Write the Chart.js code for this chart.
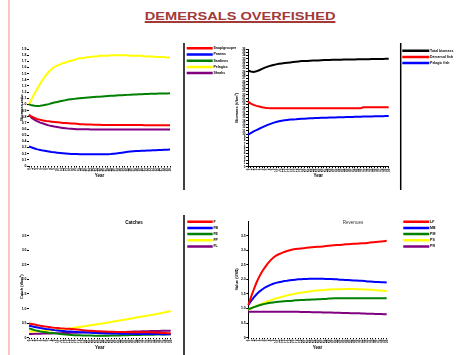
<!DOCTYPE html>
<html>
<head>
<meta charset="utf-8">
<script src="https://cdn.jsdelivr.net/npm/chart.js@4.4.1/dist/chart.umd.min.js"></script>
<style>
  body { margin: 0; background: #fff; }
  #page { position: relative; width: 465px; height: 355px; overflow: hidden; background: #fff; font-family: "Liberation Sans", Arial, sans-serif; }
  #edge { position: absolute; left: 8px; top: 0; width: 2px; height: 355px; background: #fbc6bd; }
  #title { position: absolute; left: 0; top: 10px; width: 480px; text-align: center; font-weight: bold; font-size: 11.5px; line-height: 13px; color: #a23a3a; }
  #title span { display: inline-block; transform: scaleX(1.27); text-decoration: underline; text-decoration-thickness: 1.5px; }
  canvas { position: absolute; }
  .ptitle { position: absolute; font-size: 4.5px; line-height: 5px; white-space: nowrap; transform: translateX(-50%); color: #000; }
</style>
</head>
<body>
<div id="page">
  <div id="edge"></div>
  <div id="title"><span>DEMERSALS OVERFISHED</span></div>
  <canvas id="chartBio"></canvas>
  <canvas id="chartTotals"></canvas>
  <canvas id="chartCatch"></canvas>
  <canvas id="chartValue"></canvas>
  <div class="ptitle" style="left:134px; top:219.5px; font-weight:bold;">Catches</div>
  <div class="ptitle" style="left:353px; top:219.5px; color:#333;">Revenues</div>
</div>
<script>
var years = [0, 1, 2, 3, 4, 5, 6, 7, 8, 9, 10, 11, 12, 13, 14, 15, 16, 17, 18, 19, 20,
    21, 22, 23, 24, 25, 26, 27, 28, 29, 30, 31, 32, 33, 34, 35, 36, 37, 38, 39, 40,
    41, 42, 43, 44, 45, 46, 47, 48, 49, 50];

// top left: biomass relative to start
var groupNames = ['Snap/grouper', 'Prawns', 'Sardines', 'Pelagics', 'Sharks'];
var relSnapper = [0.83, 0.80, 0.78, 0.76, 0.75, 0.74, 0.73, 0.725, 0.72, 0.715,
    0.71, 0.705, 0.70, 0.70, 0.695, 0.69, 0.69, 0.685, 0.68, 0.68,
    0.675, 0.675, 0.673, 0.67, 0.67, 0.668, 0.667, 0.666, 0.665, 0.665,
    0.665, 0.665, 0.665, 0.665, 0.665, 0.664, 0.664, 0.664, 0.664, 0.664,
    0.664, 0.663, 0.663, 0.663, 0.663, 0.663, 0.663, 0.663, 0.663, 0.663, 0.663];
var relPrawns = [0.316, 0.30, 0.285, 0.27, 0.26, 0.25, 0.243, 0.236, 0.228, 0.222,
    0.217, 0.212, 0.207, 0.203, 0.199, 0.196, 0.194, 0.193, 0.192, 0.191,
    0.19, 0.19, 0.19, 0.19, 0.19, 0.19, 0.19, 0.19, 0.19, 0.193,
    0.198, 0.204, 0.21, 0.217, 0.224, 0.23, 0.235, 0.239, 0.242, 0.245,
    0.247, 0.249, 0.251, 0.253, 0.255, 0.257, 0.259, 0.261, 0.263, 0.265, 0.267];
var relSardines = [1.00, 0.985, 0.977, 0.975, 0.977, 0.985, 0.995, 1.005, 1.02, 1.03,
    1.04, 1.05, 1.06, 1.07, 1.08, 1.085, 1.09, 1.095, 1.10, 1.105,
    1.11, 1.113, 1.116, 1.12, 1.123, 1.126, 1.13, 1.133, 1.136, 1.139,
    1.142, 1.145, 1.148, 1.15, 1.152, 1.155, 1.157, 1.16, 1.162, 1.164,
    1.166, 1.168, 1.17, 1.172, 1.173, 1.175, 1.176, 1.177, 1.178, 1.179, 1.18];
var relPelagics = [1.00, 1.09, 1.18, 1.26, 1.34, 1.41, 1.47, 1.53, 1.57, 1.61,
    1.63, 1.65, 1.67, 1.68, 1.70, 1.71, 1.72, 1.74, 1.75, 1.75,
    1.76, 1.77, 1.77, 1.78, 1.78, 1.79, 1.79, 1.79, 1.79, 1.80,
    1.80, 1.80, 1.80, 1.80, 1.80, 1.80, 1.79, 1.79, 1.79, 1.79,
    1.79, 1.78, 1.78, 1.78, 1.78, 1.77, 1.77, 1.77, 1.77, 1.76, 1.76];
var relSharks = [0.83, 0.78, 0.75, 0.725, 0.705, 0.69, 0.675, 0.66, 0.65, 0.64,
    0.632, 0.625, 0.618, 0.612, 0.607, 0.603, 0.60, 0.598, 0.597, 0.596,
    0.595, 0.595, 0.594, 0.594, 0.594, 0.594, 0.593, 0.593, 0.593, 0.593,
    0.593, 0.593, 0.593, 0.593, 0.593, 0.593, 0.593, 0.593, 0.593, 0.593,
    0.593, 0.593, 0.593, 0.593, 0.593, 0.593, 0.593, 0.593, 0.593, 0.593, 0.593];

// top right: biomass totals
var biomassNames = ['Total biomass', 'Demersal fish', 'Pelagic fish'];
var bioTotal = [29.4, 29.1, 29.0, 29.2, 29.5, 29.9, 30.3, 30.6, 30.9, 31.1,
    31.3, 31.5, 31.6, 31.7, 31.8, 31.9, 32.0, 32.1, 32.2, 32.3,
    32.3, 32.35, 32.4, 32.45, 32.5, 32.5, 32.55, 32.6, 32.6, 32.65,
    32.7, 32.7, 32.72, 32.74, 32.76, 32.78, 32.8, 32.8, 32.82, 32.84,
    32.86, 32.88, 32.9, 32.9, 32.92, 32.94, 32.95, 32.96, 32.97, 32.98, 33.0];
var bioDemersal = [19.9, 19.3, 18.9, 18.6, 18.4, 18.2, 18.05, 17.95, 17.9, 17.9,
    17.9, 17.9, 17.9, 17.9, 17.9, 17.9, 17.9, 17.9, 17.9, 17.9,
    17.9, 17.9, 17.9, 17.9, 17.9, 17.9, 17.9, 17.9, 17.9, 17.9,
    17.9, 17.9, 17.9, 17.9, 17.9, 17.9, 17.9, 17.9, 17.9, 17.9,
    17.9, 18.2, 18.2, 18.2, 18.2, 18.2, 18.2, 18.2, 18.2, 18.2, 18.2];
var bioPelagic = [9.8, 10.3, 10.8, 11.2, 11.6, 12.0, 12.4, 12.8, 13.1, 13.4,
    13.7, 13.9, 14.05, 14.2, 14.3, 14.4, 14.45, 14.5, 14.6, 14.65,
    14.7, 14.75, 14.8, 14.85, 14.9, 14.92, 14.95, 14.98, 15.0, 15.03,
    15.05, 15.08, 15.1, 15.12, 15.15, 15.17, 15.2, 15.22, 15.25, 15.27,
    15.3, 15.32, 15.34, 15.36, 15.38, 15.4, 15.42, 15.44, 15.46, 15.48, 15.5];

// bottom left: catches by fleet
var catchFleets = ['F', 'FB', 'FE', 'FP', 'FL'];
var catchF = [0.49, 0.47, 0.45, 0.43, 0.41, 0.395, 0.38, 0.365, 0.35, 0.34,
    0.335, 0.325, 0.32, 0.31, 0.305, 0.30, 0.29, 0.28, 0.27, 0.26,
    0.25, 0.24, 0.235, 0.23, 0.225, 0.22, 0.215, 0.21, 0.205, 0.20,
    0.20, 0.198, 0.196, 0.194, 0.192, 0.19, 0.19, 0.19, 0.19, 0.19,
    0.19, 0.188, 0.186, 0.185, 0.18, 0.175, 0.17, 0.165, 0.16, 0.155, 0.15];
var catchFB = [0.41, 0.39, 0.37, 0.35, 0.33, 0.315, 0.30, 0.29, 0.275, 0.26,
    0.25, 0.24, 0.23, 0.22, 0.215, 0.21, 0.20, 0.195, 0.19, 0.185,
    0.18, 0.175, 0.17, 0.165, 0.16, 0.155, 0.15, 0.148, 0.146, 0.144,
    0.142, 0.14, 0.138, 0.136, 0.135, 0.134, 0.133, 0.132, 0.131, 0.13,
    0.13, 0.129, 0.128, 0.127, 0.126, 0.125, 0.123, 0.121, 0.12, 0.118, 0.117];
var catchFE = [0.32, 0.29, 0.26, 0.235, 0.215, 0.20, 0.185, 0.17, 0.16, 0.15,
    0.14, 0.13, 0.12, 0.11, 0.10, 0.093, 0.088, 0.084, 0.08, 0.077,
    0.075, 0.073, 0.072, 0.071, 0.07, 0.07, 0.07, 0.07, 0.071, 0.072,
    0.074, 0.076, 0.078, 0.08, 0.083, 0.086, 0.089, 0.091, 0.093, 0.095,
    0.097, 0.099, 0.101, 0.103, 0.105, 0.107, 0.109, 0.111, 0.113, 0.115, 0.117];
var catchFP = [0.21, 0.215, 0.22, 0.225, 0.23, 0.235, 0.24, 0.245, 0.25, 0.26,
    0.27, 0.28, 0.29, 0.30, 0.31, 0.325, 0.34, 0.355, 0.37, 0.385,
    0.40, 0.415, 0.43, 0.445, 0.46, 0.475, 0.49, 0.505, 0.52, 0.54,
    0.56, 0.575, 0.59, 0.607, 0.624, 0.64, 0.657, 0.674, 0.69, 0.707,
    0.724, 0.741, 0.758, 0.775, 0.792, 0.81, 0.83, 0.85, 0.87, 0.89, 0.92];
var catchFL = [0.127, 0.13, 0.132, 0.135, 0.137, 0.14, 0.142, 0.145, 0.147, 0.15,
    0.152, 0.155, 0.158, 0.16, 0.163, 0.166, 0.17, 0.173, 0.176, 0.18,
    0.183, 0.185, 0.185, 0.185, 0.185, 0.185, 0.185, 0.185, 0.185, 0.185,
    0.185, 0.186, 0.187, 0.19, 0.195, 0.20, 0.205, 0.21, 0.213, 0.216,
    0.219, 0.222, 0.225, 0.228, 0.23, 0.232, 0.234, 0.236, 0.237, 0.239, 0.24];

// bottom right: revenue by fleet
var valueFleets = ['LF', 'MB', 'PM', 'PS', 'PR'];
var valueLF = [1.12, 1.40, 1.66, 1.90, 2.10, 2.27, 2.41, 2.54, 2.65, 2.74,
    2.81, 2.86, 2.90, 2.94, 2.97, 3.00, 3.02, 3.04, 3.05, 3.06,
    3.07, 3.08, 3.09, 3.10, 3.11, 3.12, 3.12, 3.13, 3.14, 3.15,
    3.16, 3.17, 3.18, 3.18, 3.19, 3.20, 3.20, 3.21, 3.22, 3.22,
    3.23, 3.24, 3.24, 3.25, 3.26, 3.27, 3.28, 3.29, 3.30, 3.31, 3.32];
var valueMB = [1.12, 1.26, 1.38, 1.49, 1.58, 1.65, 1.72, 1.77, 1.81, 1.85,
    1.88, 1.90, 1.92, 1.94, 1.95, 1.97, 1.98, 1.99, 2.00, 2.00,
    2.01, 2.01, 2.02, 2.02, 2.02, 2.02, 2.02, 2.02, 2.01, 2.01,
    2.01, 2.00, 2.00, 1.99, 1.99, 1.98, 1.98, 1.97, 1.96, 1.96,
    1.95, 1.95, 1.94, 1.93, 1.93, 1.92, 1.91, 1.91, 1.90, 1.90, 1.89];
var valuePM = [0.97, 1.01, 1.05, 1.08, 1.11, 1.14, 1.16, 1.18, 1.20, 1.21,
    1.22, 1.23, 1.24, 1.25, 1.26, 1.26, 1.27, 1.28, 1.28, 1.29,
    1.29, 1.30, 1.30, 1.31, 1.31, 1.32, 1.32, 1.33, 1.33, 1.34,
    1.34, 1.35, 1.35, 1.35, 1.35, 1.35, 1.35, 1.35, 1.35, 1.35,
    1.35, 1.35, 1.35, 1.35, 1.35, 1.35, 1.35, 1.35, 1.35, 1.35, 1.35];
var valuePS = [0.95, 1.00, 1.05, 1.09, 1.13, 1.17, 1.21, 1.24, 1.28, 1.31,
    1.35, 1.37, 1.40, 1.42, 1.45, 1.47, 1.49, 1.51, 1.53, 1.54,
    1.56, 1.57, 1.58, 1.60, 1.61, 1.62, 1.63, 1.63, 1.64, 1.65,
    1.65, 1.66, 1.66, 1.66, 1.66, 1.67, 1.67, 1.67, 1.67, 1.66,
    1.66, 1.66, 1.65, 1.65, 1.64, 1.64, 1.63, 1.62, 1.62, 1.61, 1.60];
var valuePR = [0.89, 0.89, 0.89, 0.89, 0.89, 0.89, 0.89, 0.89, 0.89, 0.89,
    0.89, 0.89, 0.89, 0.89, 0.89, 0.89, 0.89, 0.888, 0.886, 0.884,
    0.882, 0.88, 0.878, 0.876, 0.874, 0.872, 0.87, 0.867, 0.865, 0.862,
    0.86, 0.857, 0.855, 0.852, 0.85, 0.847, 0.845, 0.842, 0.84, 0.837,
    0.834, 0.83, 0.827, 0.824, 0.821, 0.818, 0.815, 0.812, 0.809, 0.806, 0.80];

var RED = '#ff0000', BLUE = '#0000ff', GREEN = '#008000', YELLOW = '#ffff00', PURPLE = '#800080', BLACK = '#000000';
var FAMILY = '"Liberation Sans", Arial, sans-serif';
var LEG_FONT = 3.5;
var LEG_PAD = 2.7;

// black rule between plot and legend
var sepLine = {
    id: 'sepLine',
    afterDraw: function (chart, args, opts) {
        if (!opts.show) return;
        var ctx = chart.ctx;
        ctx.save();
        ctx.strokeStyle = '#000';
        ctx.lineWidth = 1.5;
        ctx.beginPath();
        ctx.moveTo(opts.x, opts.y0);
        ctx.lineTo(opts.x, opts.y1);
        ctx.stroke();
        ctx.restore();
    }
};

function lineSet(label, data, color) {
    return {
        label: label, data: data, borderColor: color, backgroundColor: color,
        borderWidth: 2, pointRadius: 0, tension: 0, fill: false, xAxisID: 'x', yAxisID: 'y'
    };
}

function legendWidth(texts, box) {
    var ctx = document.createElement('canvas').getContext('2d');
    ctx.font = 'bold ' + LEG_FONT + 'px ' + FAMILY;
    var widest = 0;
    texts.forEach(function (t) { widest = Math.max(widest, ctx.measureText(t).width); });
    return LEG_PAD + box + LEG_FONT / 2 + widest + 10;
}

function makePanel(p) {
    var labels = p.datasets.map(function (d) { return d.label; });
    var total = p.legendLeft + legendWidth(labels, p.boxWidth) - p.left;
    var canvas = document.getElementById(p.id);
    canvas.width = Math.ceil(total);
    canvas.height = p.height;
    canvas.style.left = p.left + 'px';
    canvas.style.top = p.top + 'px';
    var sep = p.sepX ? { show: true, x: p.sepX - p.left, y0: p.sepY0 - p.top, y1: p.sepY1 - p.top } : { show: false };

    new Chart(canvas, {
        type: 'line',
        data: { labels: years, datasets: p.datasets },
        options: {
            responsive: false,
            animation: false,
            devicePixelRatio: 1,
            events: [],
            layout: { padding: { top: p.padTop, bottom: p.padBottom, left: 0, right: Math.ceil(total) - total } },
            plugins: {
                legend: {
                    position: 'right',
                    align: 'start',
                    maxWidth: 300,
                    labels: {
                        boxWidth: p.boxWidth, boxHeight: 0.5, padding: LEG_PAD, color: '#000',
                        font: { family: FAMILY, size: LEG_FONT, weight: 'bold' }
                    }
                },
                tooltip: { enabled: false },
                sepLine: sep
            },
            scales: {
                x: {
                    type: 'category',
                    position: 'bottom',
                    grid: { display: true, drawOnChartArea: false, tickLength: 1.5, color: '#000' },
                    border: { display: p.xLine, color: '#000', width: 1 },
                    ticks: {
                        autoSkip: false, minRotation: 90, maxRotation: 90, padding: 0.5, color: '#000',
                        font: { family: FAMILY, size: 3, weight: 'bold' }
                    },
                    title: { display: true, text: 'Year', color: '#000', padding: 0, font: { family: FAMILY, size: 4.5, weight: 'bold' } },
                    afterFit: function (s) { s.height = p.xHeight; }
                },
                topGap: {
                    type: 'linear', position: 'top', display: true,
                    grid: { display: false }, border: { display: false }, ticks: { display: false },
                    afterFit: function (s) { s.height = p.topGap; }
                },
                y: {
                    type: 'linear',
                    position: 'left',
                    min: p.yMin, max: p.yMax,
                    grid: { display: true, drawOnChartArea: false, tickLength: 2, color: '#000' },
                    border: { display: p.yLine, color: '#000', width: 1 },
                    ticks: {
                        stepSize: p.yStep, autoSkip: false, padding: 0.5, color: '#000',
                        font: { family: FAMILY, size: p.yFont, weight: 'bold' }
                    },
                    afterBuildTicks: function (s) {
                        s.ticks = s.ticks.filter(function (t) { return t.value <= p.yLabelMax + 1e-9; });
                    },
                    title: {
                        display: true, text: p.yTitle, color: '#000', padding: { top: p.yTitlePad, bottom: 0 },
                        font: { family: FAMILY, size: 4, weight: 'bold' }
                    },
                    afterFit: function (s) { s.width = p.yWidth; }
                },
                rightGap: {
                    type: 'linear', position: 'right', display: true,
                    grid: { display: false }, border: { display: false }, ticks: { display: false },
                    afterFit: function (s) { s.width = p.gap; }
                }
            }
        },
        plugins: [sepLine]
    });
}

makePanel({
    id: 'chartBio', left: 12, top: 40, height: 152, padTop: 3.85, padBottom: 14,
    yWidth: 17, xHeight: 12, topGap: 5.15, gap: 15, legendLeft: 185, boxWidth: 24,
    yMin: 0, yMax: 1.9, yStep: 0.1, yLabelMax: 1.9, yFont: 3.5, yTitle: 'Biomass ratio', yTitlePad: 7.3,
    xLine: false, yLine: false, sepX: 184, sepY0: 43, sepY1: 190,
    datasets: [
        lineSet(groupNames[0], relSnapper, RED),
        lineSet(groupNames[1], relPrawns, BLUE),
        lineSet(groupNames[2], relSardines, GREEN),
        lineSet(groupNames[3], relPelagics, YELLOW),
        lineSet(groupNames[4], relSharks, PURPLE)
    ]
});

makePanel({
    id: 'chartTotals', left: 228, top: 40, height: 152, padTop: 6.25, padBottom: 14,
    yWidth: 20, xHeight: 11.3, topGap: 2.75, gap: 11.9, legendLeft: 400.6, boxWidth: 25,
    yMin: 0, yMax: 36, yStep: 1, yLabelMax: 36, yFont: 3, yTitle: 'Biomass (t/km²)', yTitlePad: 6.3,
    xLine: true, yLine: true, sepX: 400.7, sepY0: 43, sepY1: 190,
    datasets: [
        lineSet(biomassNames[0], bioTotal, BLACK),
        lineSet(biomassNames[1], bioDemersal, RED),
        lineSet(biomassNames[2], bioPelagic, BLUE)
    ]
});

makePanel({
    id: 'chartCatch', left: 12, top: 212, height: 143, padTop: 5.25, padBottom: 5,
    yWidth: 17, xHeight: 12.3, topGap: 18.45, gap: 14.9, legendLeft: 185.6, boxWidth: 23.4,
    yMin: 0, yMax: 3.5, yStep: 0.5, yLabelMax: 3.5, yFont: 3.5, yTitle: 'Catch (t/km²)', yTitlePad: 7.3,
    xLine: false, yLine: false, sepX: 184, sepY0: 215, sepY1: 355,
    datasets: [
        lineSet(catchFleets[0], catchF, RED),
        lineSet(catchFleets[1], catchFB, BLUE),
        lineSet(catchFleets[2], catchFE, GREEN),
        lineSet(catchFleets[3], catchFP, YELLOW),
        lineSet(catchFleets[4], catchFL, PURPLE)
    ]
});

makePanel({
    id: 'chartValue', left: 228, top: 212, height: 143, padTop: 5.25, padBottom: 5,
    yWidth: 20.3, xHeight: 12.3, topGap: 3.75, gap: 14.9, legendLeft: 401.6, boxWidth: 24,
    yMin: 0, yMax: 4, yStep: 0.5, yLabelMax: 3.5, yFont: 3.5, yTitle: 'Value (US$)', yTitlePad: 6.9,
    xLine: false, yLine: true, sepX: 0,
    datasets: [
        lineSet(valueFleets[0], valueLF, RED),
        lineSet(valueFleets[1], valueMB, BLUE),
        lineSet(valueFleets[2], valuePM, GREEN),
        lineSet(valueFleets[3], valuePS, YELLOW),
        lineSet(valueFleets[4], valuePR, PURPLE)
    ]
});
</script>
</body>
</html>
